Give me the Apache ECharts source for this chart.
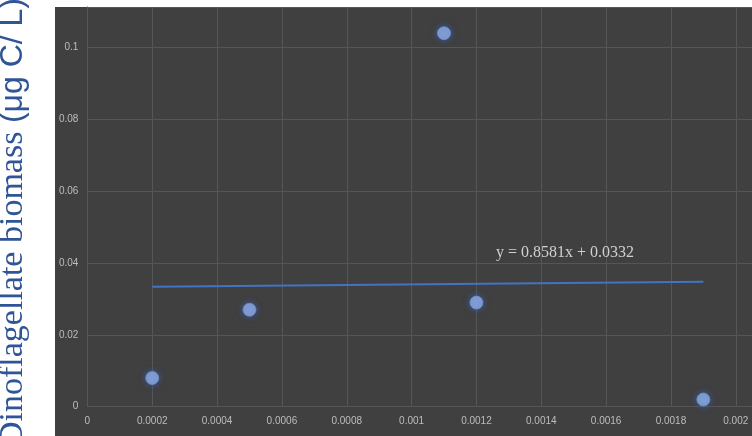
<!DOCTYPE html>
<html>
<head>
<meta charset="utf-8">
<script src="https://cdn.jsdelivr.net/npm/echarts@6/dist/echarts.min.js"></script>
<style>
html,body{margin:0;padding:0;background:#ffffff;}
#chart{width:752px;height:436px;}
</style>
</head>
<body>
<div id="chart"></div>
<script>
// Data
var xValues = [0.0002, 0.0005, 0.0011, 0.0012, 0.0019];
var yValues = [0.008, 0.027, 0.104, 0.029, 0.002];
var trendX = [0.0002, 0.0019];
var trendY = [0.0334, 0.0348];
var equationText = 'y = 0.8581x + 0.0332';
var equationAt = [0.001473, 0.0429];
var yAxisTitleMain = 'Dinoflagellate biomass ';
var yAxisTitleUnit = '(\u03bcg C/ L)';
var xTicks = { min: 0, max: 0.00205, interval: 0.0002 };
var yTicks = { min: 0, max: 0.1113, interval: 0.02 };

var points = xValues.map(function (x, i) { return [x, yValues[i]]; });
var trend = trendX.map(function (x, i) { return [x, trendY[i]]; });

var chart = echarts.init(document.getElementById('chart'), null, { renderer: 'canvas' });
var gridColor = '#565656';
var labelColor = '#bdbdbd';

chart.setOption({
  backgroundColor: '#ffffff',
  animation: false,
  grid: { left: 87.4, right: 0, top: 7, bottom: 29.3, containLabel: false },
  graphic: [
    { type: 'rect', z: -10, silent: true,
      shape: { x: 55, y: 7, width: 697, height: 429 },
      style: { fill: '#404040' } },
    { type: 'text', z: 10, silent: true,
      x: 13, y: 222, rotation: Math.PI / 2,
      style: {
        text: '{a|' + yAxisTitleMain + '}{b|' + yAxisTitleUnit + '}',
        textAlign: 'center', textVerticalAlign: 'middle',
        rich: {
          a: { fill: '#2F5597', font: '34px "Liberation Serif", serif', verticalAlign: 'middle' },
          b: { fill: '#2F5597', font: '32px "Liberation Sans", Arial, sans-serif', verticalAlign: 'middle' }
        }
      } }
  ],
  xAxis: {
    type: 'value', min: xTicks.min, max: xTicks.max, interval: xTicks.interval,
    axisLine: { show: true, onZero: false, lineStyle: { color: gridColor, width: 1 } },
    axisTick: { show: false },
    splitLine: { show: true, lineStyle: { color: gridColor, width: 1 } },
    axisLabel: { color: labelColor, fontSize: 10, fontFamily: '"Liberation Sans", Arial, sans-serif',
      margin: 10, showMaxLabel: false }
  },
  yAxis: {
    type: 'value', min: yTicks.min, max: yTicks.max, interval: yTicks.interval,
    axisLine: { show: true, onZero: false, lineStyle: { color: gridColor, width: 1 } },
    axisTick: { show: false },
    splitLine: { show: true, lineStyle: { color: gridColor, width: 1 } },
    axisLabel: { color: labelColor, fontSize: 10, fontFamily: '"Liberation Sans", Arial, sans-serif',
      margin: 9, showMaxLabel: false }
  },
  series: [
    {
      type: 'line', data: trend, showSymbol: false, symbol: 'none', z: 2,
      lineStyle: { color: '#4472C4', width: 2 },
      markPoint: {
        symbol: 'circle', symbolSize: 0, silent: true,
        data: [{ coord: equationAt, value: equationText }],
        label: { show: true, position: 'inside', formatter: equationText,
          color: '#d0d0d0', fontSize: 16, fontFamily: '"Liberation Serif", "Times New Roman", serif' }
      }
    },
    {
      type: 'scatter', data: points, symbol: 'circle', symbolSize: 13, z: 3,
      itemStyle: { color: '#96B3E8', borderColor: '#6a8fd2', borderWidth: 1,
        shadowBlur: 6, shadowColor: 'rgba(60,100,190,0.9)' }
    }
  ]
});
</script>
</body>
</html>
